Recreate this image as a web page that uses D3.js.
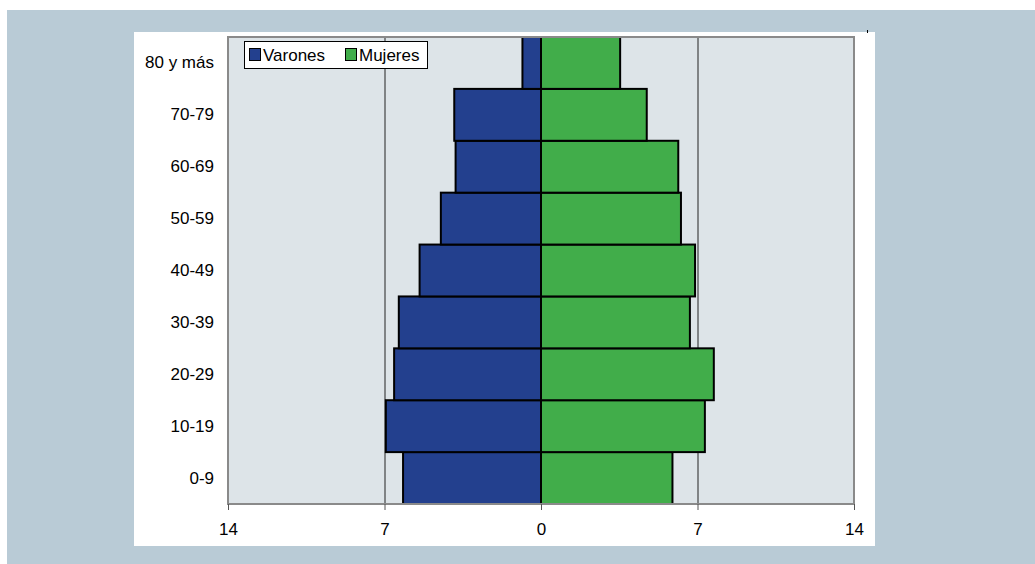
<!DOCTYPE html>
<html><head><meta charset="utf-8">
<script src="https://cdn.jsdelivr.net/npm/d3@7"></script>
<style>html,body{margin:0;padding:0;background:#fff;}svg{display:block;}</style>
</head><body>
<script>
const categories = ["0-9","10-19","20-29","30-39","40-49","50-59","60-69","70-79","80 y más"];
const varones = [6.17, 6.94, 6.57, 6.36, 5.43, 4.48, 3.82, 3.88, 0.83];
const mujeres = [5.88, 7.33, 7.73, 6.66, 6.89, 6.26, 6.14, 4.73, 3.54];
const tickValues = [-14, -7, 0, 7, 14];
const seriesNames = ["Varones", "Mujeres"];

const W = 1035, H = 564;
const FONT = "'Liberation Sans', Arial, sans-serif";
const FS = 17;
const svg = d3.select("body").append("svg").attr("width", W).attr("height", H)
  .style("font-family", FONT);

// backgrounds
svg.append("rect").attr("x",0).attr("y",0).attr("width",W).attr("height",H).attr("fill","#fff");
svg.append("rect").attr("x",7).attr("y",10).attr("width",W-7).attr("height",H-10).attr("fill","#b9cbd6");
svg.append("rect").attr("x",134).attr("y",32).attr("width",741).attr("height",514).attr("fill","#fff");

const L = 228, R = 854, T = 37, B = 504;
const x = d3.scaleLinear().domain([-14, 14]).range([L, R]);
const y = d3.scaleBand().domain(categories.slice().reverse()).range([T, B]).padding(0);

svg.append("rect").attr("x",L).attr("y",T).attr("width",R-L).attr("height",B-T).attr("fill","#dde4e8");

// gridlines
svg.append("g").selectAll("line").data(tickValues.filter(v => Math.abs(v) === 7)).join("line")
  .attr("x1", d => x(d)+0.5).attr("x2", d => x(d)+0.5).attr("y1", T).attr("y2", B)
  .attr("stroke", "#222").attr("stroke-width", 1);

const colors = {Varones: "#23408e", Mujeres: "#41ad4a"};
const rows = categories.map((c, i) => ({c, v: varones[i], m: mujeres[i]}));

const gb = svg.append("g");
gb.selectAll("rect.v").data(rows).join("rect").attr("class","v")
  .attr("x", d => x(-d.v)).attr("width", d => x(0) - x(-d.v))
  .attr("y", d => y(d.c)).attr("height", y.bandwidth())
  .attr("fill", colors.Varones).attr("stroke", "#000").attr("stroke-width", 2);
gb.selectAll("rect.m").data(rows).join("rect").attr("class","m")
  .attr("x", x(0)).attr("width", d => x(d.m) - x(0))
  .attr("y", d => y(d.c)).attr("height", y.bandwidth())
  .attr("fill", colors.Mujeres).attr("stroke", "#000").attr("stroke-width", 2);

// plot border
svg.append("rect").attr("x",L).attr("y",T).attr("width",R-L).attr("height",B-T)
  .attr("fill","none").attr("stroke","#8a8a8a").attr("stroke-width",2);

// x axis
const xAxis = d3.axisBottom(x).tickValues(tickValues).tickFormat(d => Math.abs(d)).tickSizeOuter(0).tickSize(6).tickPadding(13);
const gx = svg.append("g").attr("transform", `translate(0,${B})`).call(xAxis);
gx.select(".domain").remove();
gx.selectAll(".tick line").attr("stroke","#555");
gx.selectAll(".tick text").attr("font-size", FS).attr("fill","#000").attr("font-family", FONT);

// y axis
const yAxis = d3.axisLeft(y).tickSize(0).tickPadding(14);
const gy = svg.append("g").attr("transform", `translate(${L},0)`).call(yAxis);
gy.select(".domain").remove();
gy.selectAll(".tick text").attr("font-size", FS).attr("fill","#000").attr("font-family", FONT);

// legend
const lg = svg.append("g");
lg.append("rect").attr("x",244.5).attr("y",41.5).attr("width",183).attr("height",27)
  .attr("fill","#fff").attr("stroke","#000").attr("stroke-width",1);
const legX = [249, 345];
seriesNames.forEach((s, i) => {
  lg.append("rect").attr("x", legX[i]+0.5).attr("y", 48.5).attr("width", 11).attr("height", 12)
    .attr("fill", colors[s]).attr("stroke", "#000").attr("stroke-width", 1);
  lg.append("text").attr("x", legX[i] + 14).attr("y", 61).attr("font-size", FS).attr("fill","#000").text(s);
});

// small mark at top right
svg.append("line").attr("x1",867.5).attr("x2",867.5).attr("y1",30).attr("y2",33).attr("stroke","#000");
</script>
</body></html>
